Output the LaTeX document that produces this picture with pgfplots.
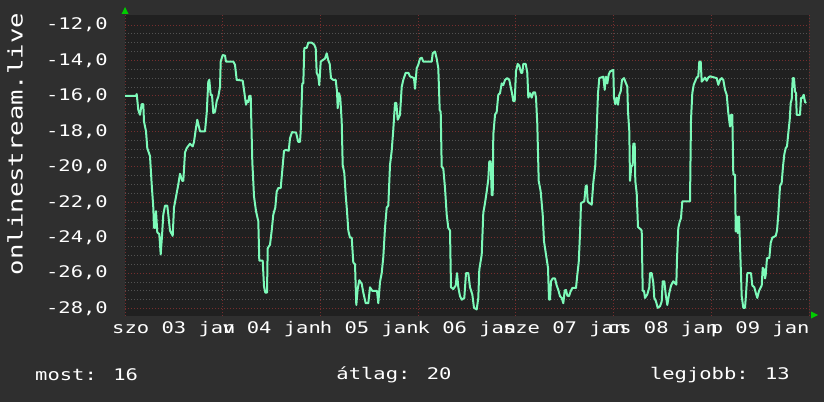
\documentclass[border=0pt]{standalone}
\usepackage{fontspec}
\usepackage{pgfplots}
\pgfplotsset{compat=1.18}
\newfontfamily\rrd[FakeStretch=1.28]{DejaVu Sans Mono}
\definecolor{outerbg}{RGB}{47,47,47}
\definecolor{plotbg}{RGB}{32,32,32}
\definecolor{gridminor}{RGB}{82,82,82}
\definecolor{gridmajor}{RGB}{118,46,46}
\definecolor{linecol}{RGB}{125,250,185}
\definecolor{arrowgreen}{RGB}{0,205,0}
\begin{document}
\begin{tikzpicture}
\path[use as bounding box, fill=outerbg] (0pt,0pt) rectangle (824pt,402pt);
\begin{axis}[%
at={(125pt,86pt)}, anchor=south west,
width=684pt, height=301pt,
scale only axis,
axis background/.style={fill=plotbg},
axis line style={draw=none},
xmin=0, xmax=684,
ymin=-28.42, ymax=-11.44,
xtick={0,97.71,195.43,293.14,390.86,488.57,586.29,684},
xticklabels={},
minor x tick num=3,
extra x ticks={48.86,146.57,244.29,342,439.71,537.43,635.14},
extra x tick labels={szo 03 jan,v 04 jan,h 05 jan,k 06 jan,sze 07 jan,cs 08 jan,p 09 jan},
extra x tick style={grid=none},
ytick={-28,-26,...,-12},
minor y tick num=3,
major tick length=0pt, minor tick length=0pt,
grid=both,
major grid style={gridmajor, dash pattern=on 1pt off 2pt, line width=0.8pt},
minor grid style={gridminor, dash pattern=on 1pt off 2pt, line width=0.8pt},
tick label style={font=\rrd\fontsize{16}{19}\selectfont, text=white},
yticklabel style={anchor=east, inner sep=0pt, xshift=-17pt},
xticklabel style={anchor=north, inner sep=0pt, yshift=-5pt},
/pgf/number format/assume math mode=true,
yticklabel style={/pgf/number format/.cd, fixed, fixed zerofill, precision=1, use comma},
]
\addplot[color=linecol, line width=2pt, line join=round] table {
0 -16.0
11 -16.0
11.7 -15.9
13.3 -16.8
15 -17.07
16.7 -16.47
18.3 -16.47
19 -17.45
21 -18.0
22.3 -18.95
25 -19.4
26.7 -21.0
28.3 -22.3
29 -23.45
30.3 -23.45
31 -22.5
32.3 -23.7
34.3 -23.8
35.7 -24.95
37 -23.9
38.3 -22.7
40 -22.2
42.3 -22.2
43.3 -22.7
45 -23.6
47.7 -23.9
49 -22.3
51 -21.7
53.3 -21.0
55 -20.4
57.3 -20.8
58.3 -20.8
60 -19.2
61.7 -18.95
65 -18.7
67.7 -18.85
69 -18.6
71 -17.8
72.3 -17.35
75 -18.0
80 -18.0
81.7 -16.97
83.3 -15.2
84.3 -15.1
85.7 -15.95
87 -15.95
88.3 -16.97
90 -16.9
91.7 -16.3
93.3 -16.04
95 -15.5
95.7 -14.07
97.7 -13.7
100 -13.73
101 -14.07
108.3 -14.07
110 -14.25
111.7 -15.1
117.7 -15.14
119 -15.66
121 -16.5
122.3 -16.28
123.3 -16.35
124.3 -16.0
125.7 -16.0
127.3 -19.7
129 -21.67
131 -22.5
133.3 -23.08
134.3 -25.3
137.7 -25.3
139 -26.74
140.3 -27.1
142 -27.1
142.7 -24.6
145 -24.4
146.7 -23.6
148.3 -22.7
150.3 -22.3
151.7 -21.4
153.3 -21.2
155.7 -21.2
157.3 -20.2
159 -19.1
161 -19.05
163.7 -19.1
165 -18.4
167 -18.05
171 -18.07
173.3 -18.6
175 -18.6
175.7 -18.0
177.3 -15.3
178.3 -15.3
179.3 -13.3
181.7 -13.3
183.3 -13.0
186.7 -13.0
189 -13.1
190.7 -13.3
191.7 -14.7
193.3 -14.9
194.3 -15.4
195.7 -14.07
197.3 -14.0
200 -13.9
201.7 -13.6
203.3 -14.0
204.7 -14.2
206 -15.0
208.3 -15.1
210.7 -15.1
212 -15.75
212.7 -16.7
214 -15.85
215.3 -16.13
216.7 -17.45
217.7 -19.9
219.3 -20.35
220.7 -21.6
222 -22.5
223.3 -23.6
225 -24.0
226.7 -24.0
228.3 -25.4
230 -25.5
231.3 -27.8
232.7 -26.9
234.3 -26.4
236.7 -26.6
238.3 -27.1
240.7 -27.7
243.3 -27.7
245 -26.8
247.3 -27.0
252 -27.0
253.3 -27.7
255 -26.5
256.7 -26.0
258.3 -25.1
260 -23.45
261.7 -22.3
263.3 -22.2
265 -19.9
266.7 -19.1
268.3 -17.9
270 -16.4
271.3 -16.4
272.7 -17.35
275 -17.07
276.7 -15.5
278.3 -15.1
280.7 -14.7
283.3 -14.7
285 -14.9
289 -15.0
290 -15.6
291.7 -14.44
293.3 -14.25
295 -13.9
296.7 -13.85
298.3 -14.07
306.7 -14.07
307.7 -13.6
310 -13.5
311.7 -13.9
313.3 -14.44
314.7 -16.8
315.7 -16.9
316.7 -20.0
318.3 -20.1
320 -21.2
321.7 -22.7
323.3 -23.45
325 -23.6
326 -26.8
328.3 -26.9
330.7 -26.7
332 -26.0
333.3 -26.8
335 -27.3
336.7 -27.5
339.3 -27.4
341 -26.0
343.3 -26.0
345 -26.8
347.3 -27.2
349 -27.96
351.7 -28.05
353.3 -27.4
354.3 -25.8
356.7 -24.96
358.3 -22.6
360 -22.05
361.7 -21.4
363.3 -20.7
364.3 -19.7
365.7 -19.7
366.7 -21.6
367.7 -21.6
368.3 -18.2
370 -17.07
371.7 -16.9
373.3 -15.94
375 -15.85
376.7 -15.3
378.3 -15.4
380 -15.1
382.3 -15.0
384.3 -15.1
385.7 -15.5
387 -15.85
388.3 -16.3
389.7 -16.3
391 -14.6
392.7 -14.2
394.3 -14.3
396 -14.7
397.3 -14.7
398.3 -14.2
400.7 -14.2
402.3 -14.7
403.3 -16.1
405 -15.85
406.7 -16.1
408.3 -15.8
410 -15.8
411 -16.1
412.3 -17.6
413.7 -20.8
415.7 -21.4
417.7 -22.7
419 -24.2
421 -24.96
423 -25.7
424 -27.5
425 -27.5
426 -26.46
427.7 -26.3
430 -26.3
431.7 -26.7
433.3 -26.95
435 -27.3
436.7 -27.4
438.3 -27.7
439.7 -26.98
441 -26.95
442.3 -27.27
444 -27.3
445.7 -27.02
447.3 -26.84
451 -26.84
452.3 -26.1
453.7 -25.4
455 -23.8
456 -22.05
459.3 -21.95
460.7 -21.1
461.7 -21.05
462.7 -21.95
464.3 -22.05
466.7 -22.14
468.3 -20.9
470.3 -19.9
471.7 -17.9
473 -15.85
474.3 -15.0
478.3 -14.92
479.7 -15.66
481 -14.92
482.3 -15.3
483.7 -14.8
485 -14.63
488.3 -14.54
489 -16.1
490.3 -16.47
491.7 -16.1
493 -16.5
494.3 -15.94
495.7 -15.75
497 -15.1
499 -15.0
501 -15.3
502.3 -15.47
503 -16.9
504.3 -18.0
505 -20.8
506.3 -20.0
507.7 -19.9
508.3 -18.7
509.7 -18.7
510.3 -20.8
511.7 -21.5
513 -23.4
515 -23.5
516.7 -23.6
517.7 -27.0
519 -27.0
520 -27.4
522.3 -27.2
524.3 -26.8
525 -26.0
526.7 -26.0
528.3 -26.55
529.3 -27.4
531 -27.6
532.7 -27.96
535 -27.87
536.7 -27.6
537.7 -26.46
539.3 -26.46
540.7 -27.2
542.3 -27.8
544 -27.2
546 -26.7
548.3 -26.46
551.3 -26.65
552 -25.2
553.3 -23.45
554.7 -23.1
556 -22.9
557.3 -21.95
565 -21.95
566 -17.35
567.3 -15.85
568.7 -15.38
570 -15.2
571.7 -14.97
573.3 -14.9
574.3 -14.07
575.7 -14.07
576.7 -15.2
578.3 -15.1
580 -14.97
581.7 -15.15
583.3 -14.97
585 -14.9
591.7 -15.0
593.3 -15.38
595 -15.1
596.7 -15.0
598.3 -15.1
600 -15.66
601.7 -15.94
603.3 -16.97
605 -17.73
606 -17.07
607.3 -17.07
608.3 -20.45
610 -20.45
610.7 -23.65
611.7 -22.8
612.7 -23.74
614 -22.8
615 -24.4
616.7 -27.3
618.3 -27.96
620 -27.96
621 -27.2
622.3 -26.0
626 -26.0
627.3 -26.7
629.3 -26.8
630.7 -27.1
632.3 -27.4
634 -27.0
636.7 -26.7
637.7 -25.7
639 -25.8
640 -26.3
640.7 -26.1
642 -25.15
644.3 -25.15
645.7 -24.3
647.3 -24.0
650.7 -23.9
652 -23.6
653.3 -22.7
655 -21.1
656.7 -20.9
658 -19.98
659.3 -19.3
660.7 -18.95
662 -18.85
663.3 -18.1
664.7 -17.35
665.7 -16.4
666.7 -16.2
667.7 -15.0
669 -15.0
670 -15.75
671 -15.85
671.7 -17.07
675 -17.07
676 -16.12
677.3 -16.12
678.7 -15.94
680 -16.35
681.3 -16.4
};
\end{axis}
% rrd arrows
\fill[arrowgreen] (121.5pt,388pt) -- (128.5pt,388pt) -- (125pt,395pt) -- cycle;
\fill[arrowgreen] (811pt,83.5pt) -- (811pt,90.5pt) -- (818pt,87pt) -- cycle;
% vertical label and legend line
\node[rotate=90, text=white, font=\rrd\fontsize{20}{24}\selectfont] at (15pt,258pt) {onlinestream.live};
\node[anchor=west, text=white, font=\rrd\fontsize{16}{19}\selectfont, inner sep=0pt] at (35pt,27pt) {most: 16};
\node[text=white, font=\rrd\fontsize{16}{19}\selectfont, inner sep=0pt] at (394pt,27pt) {átlag: 20};
\node[anchor=east, text=white, font=\rrd\fontsize{16}{19}\selectfont, inner sep=0pt] at (790pt,27pt) {legjobb: 13};
\end{tikzpicture}
\end{document}
